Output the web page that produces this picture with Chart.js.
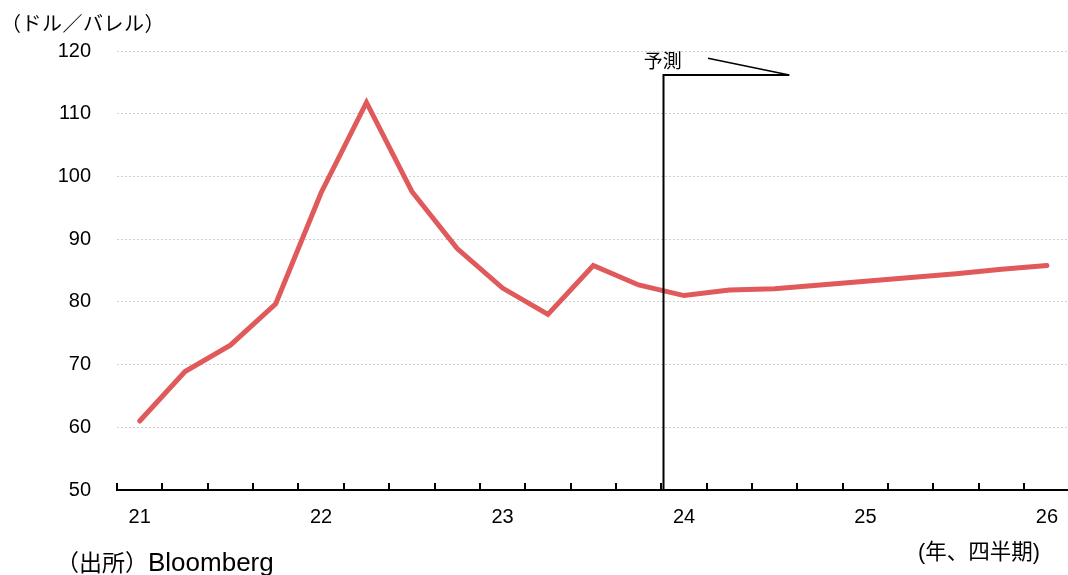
<!DOCTYPE html>
<html>
<head>
<meta charset="utf-8">
<script src="https://cdn.jsdelivr.net/npm/chart.js@4.4.1/dist/chart.umd.min.js"></script>
<style>
  html, body { margin: 0; padding: 0; background: #ffffff; overflow: hidden; }
  #wrap { position: relative; width: 1068px; height: 575px; overflow: hidden; }
  canvas { display: block; }
  .txt { position: absolute; white-space: nowrap; color: #000; }
</style>
</head>
<body>
<div id="wrap">
  <canvas id="c" width="1073" height="575" style="width:1073px;height:575px"></canvas>
  <div class="txt" id="unit" style="left:1px;top:8px;font:20px 'Noto Sans CJK JP';letter-spacing:0.5px;">（ドル／バレル）</div>
  <div class="txt" id="xunit" style="left:918px;top:534px;font:21.5px 'Liberation Sans','Noto Sans CJK JP';">(年、四半期)</div>
  <div class="txt" id="src" style="left:56px;top:544px;font:23px 'Noto Sans CJK JP';">（出所）<span style="font:26px 'Liberation Sans';">Bloomberg</span></div>
</div>
<script>
// ---- data ----
const quarters = ['21Q1','21Q2','21Q3','21Q4','22Q1','22Q2','22Q3','22Q4','23Q1','23Q2','23Q3','23Q4',
                  '24Q1','24Q2','24Q3','24Q4','25Q1','25Q2','25Q3','25Q4','26Q1'];
const oilPrice = [61.0, 68.9, 73.1, 79.7, 97.4, 111.8, 97.6, 88.5, 82.2, 78.0, 85.8, 82.7,
                  81.0, 81.9, 82.1, 82.7, 83.3, 83.9, 84.5, 85.2, 85.8];
const xTickLabels = ['21','','','','22','','','','23','','','','24','','','','25','','','','26'];
const yMin = 50, yMax = 120, yStep = 10;
const forecastLabel = '予測';

// ---- plugins ----
const tickMarks = {
  id: 'tickMarks',
  afterDraw(chart) {
    const x = chart.scales.x, ctx = chart.ctx;
    const yb = x.top;
    ctx.save();
    ctx.strokeStyle = '#000';
    ctx.lineWidth = 2;
    for (let i = 0; i <= quarters.length; i++) {
      const px = Math.round(x.getPixelForValue(i - 0.5));
      ctx.beginPath();
      ctx.moveTo(px, yb - 7);
      ctx.lineTo(px, yb);
      ctx.stroke();
    }
    ctx.restore();
  }
};

const forecastMark = {
  id: 'forecastMark',
  afterDatasetsDraw(chart) {
    const x = chart.scales.x, y = chart.scales.y, ctx = chart.ctx;
    const vx = Math.round(x.getPixelForValue(11.53)) + 0.5;
    const topY = Math.round(y.getPixelForValue(116.1));
    const hx = x.getPixelForValue(14.32);
    ctx.save();
    ctx.strokeStyle = '#000';
    ctx.lineWidth = 2;
    ctx.beginPath();
    ctx.moveTo(vx, y.bottom);
    ctx.lineTo(vx, topY);
    ctx.lineTo(hx, topY);
    ctx.stroke();
    ctx.lineWidth = 1.5;
    ctx.beginPath();
    ctx.moveTo(x.getPixelForValue(12.53), y.getPixelForValue(118.85));
    ctx.lineTo(hx, topY);
    ctx.stroke();
    ctx.fillStyle = '#000';
    ctx.font = "19px 'Noto Sans CJK JP'";
    ctx.textAlign = 'center';
    ctx.textBaseline = 'middle';
    ctx.fillText(forecastLabel, x.getPixelForValue(11.53), y.getPixelForValue(118.5));
    ctx.restore();
  }
};

new Chart(document.getElementById('c'), {
  type: 'line',
  data: {
    labels: quarters,
    datasets: [{
      data: oilPrice,
      borderColor: '#e05a5c',
      borderWidth: 5,
      pointRadius: 0,
      borderCapStyle: 'round',
      borderJoinStyle: 'miter',
      tension: 0,
      fill: false
    }]
  },
  options: {
    responsive: false,
    animation: false,
    devicePixelRatio: 1,
    layout: { padding: { top: 51, right: 0, left: 0, bottom: 0 } },
    plugins: { legend: { display: false }, tooltip: { enabled: false } },
    scales: {
      x: {
        type: 'category',
        offset: true,
        grid: { display: true, drawOnChartArea: false, drawTicks: false, offset: true },
        border: { display: true, color: '#000', width: 2 },
        ticks: {
          autoSkip: false, maxRotation: 0, padding: 15,
          color: '#000',
          font: { family: "'Liberation Sans', Arial", size: 20 },
          callback: (v, i) => xTickLabels[i]
        },
        afterFit(s) { s.height = 85; }
      },
      y: {
        min: yMin, max: yMax,
        ticks: {
          stepSize: yStep, padding: 26, color: '#000',
          font: { family: "'Liberation Sans', Arial", size: 20 }
        },
        grid: {
          drawTicks: false,
          color: (c) => c.tick && c.tick.value === yMin ? 'rgba(0,0,0,0)' : '#cfcfcf',
          lineWidth: 1
        },
        border: { display: false, dash: [2, 2] },
        afterFit(s) { s.width = 117; }
      }
    }
  },
  plugins: [tickMarks, forecastMark]
});
</script>
</body>
</html>
